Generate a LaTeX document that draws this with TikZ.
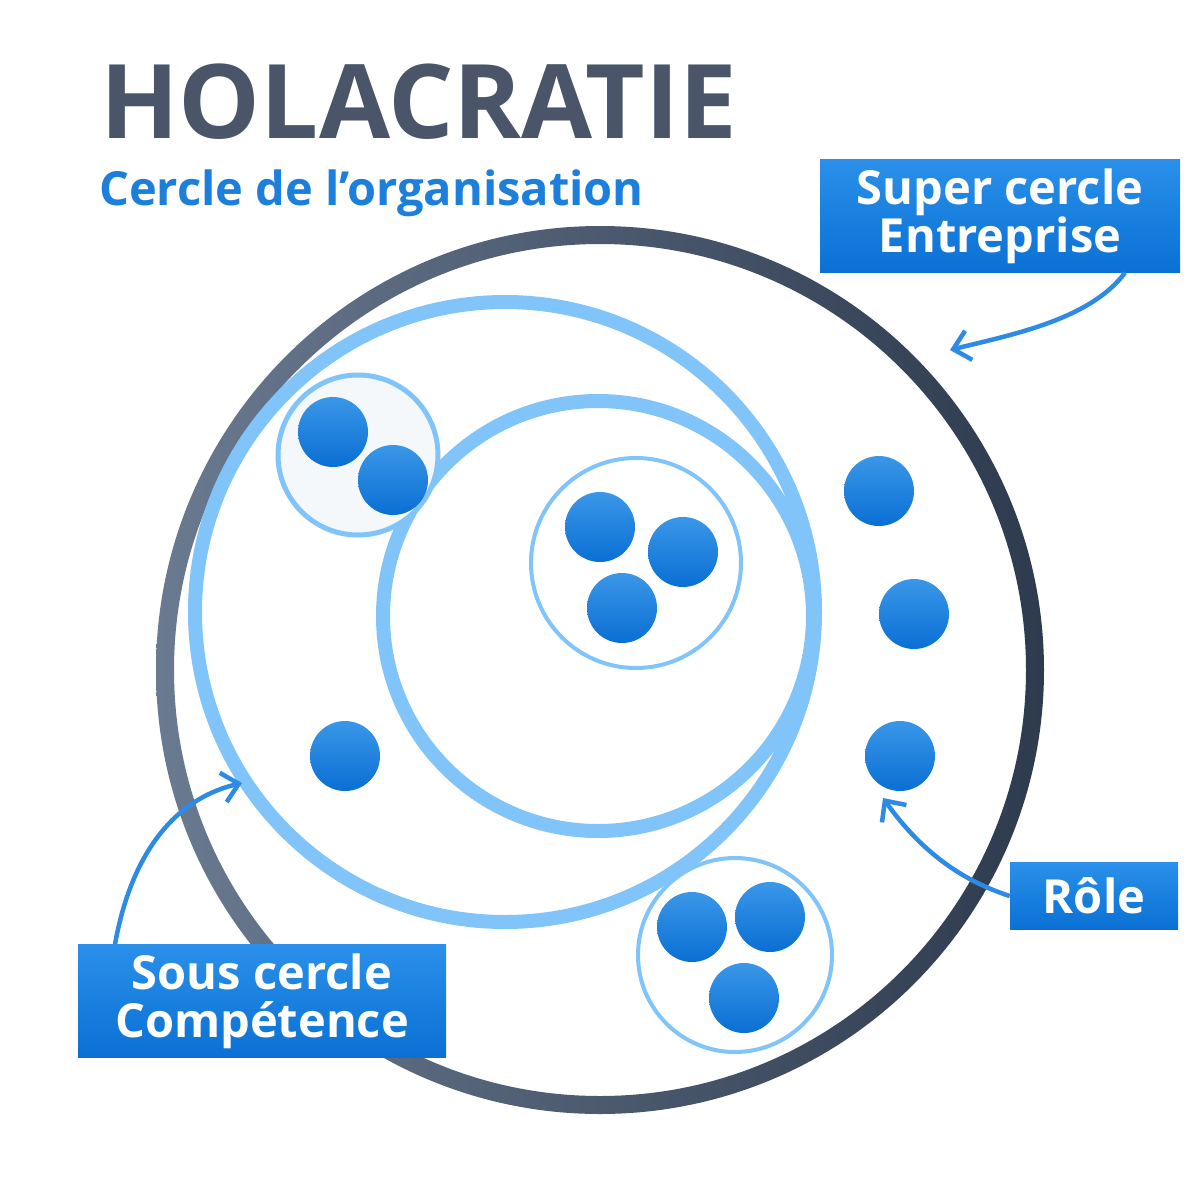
\documentclass[tikz,border=0pt]{standalone}
\usepackage{fontspec}
\setmainfont{Open Sans}
\usetikzlibrary{arrows.meta}
\definecolor{lb}{HTML}{80C4FA}
\definecolor{ab}{HTML}{2D8AE5}
\definecolor{tt}{HTML}{4A556A}
\definecolor{st}{HTML}{1B7FDB}
\definecolor{dtop}{HTML}{3A97E8}
\definecolor{dbot}{HTML}{0A6FD4}
\definecolor{btop}{HTML}{2A90EA}
\definecolor{bbot}{HTML}{0A70D4}
\definecolor{gl}{HTML}{6A7A90}
\definecolor{gr}{HTML}{2E3A4E}
\definecolor{pale}{HTML}{F5F8FB}
\tikzset{
 dot/.style={circle,minimum size=70pt,inner sep=0pt,top color=dtop,bottom color=dbot},
 lab/.style={inner sep=0pt,minimum height=#1,text=white,font=\bfseries\fontsize{47}{48}\selectfont,align=center,top color=btop,bottom color=bbot},
 ring/.style={draw=lb,line width=#1},
 arr/.style={draw=ab,line width=4.5pt,-{Straight Barb[length=16pt,width=30pt,line width=4.5pt]}}
}
\begin{document}
\begin{tikzpicture}[x=1pt,y=-1pt]
\useasboundingbox (0,0) rectangle (1200,1200);
\fill[white] (0,0) rectangle (1200,1200);
\node[anchor=base west,inner sep=0pt,text=tt,font=\bfseries\fontsize{103}{106}\selectfont] (title) at (100,138) {HOLACRATIE};
\node[anchor=base west,inner sep=0pt,text=st,font=\bfseries\fontsize{47}{50}\selectfont] (sub) at (99,205) {Cercle de l’organisation};
\shade[left color=gl,right color=gr,even odd rule] (600,670) circle (444) circle (426);
\node[circle,ring=14pt,minimum size=620pt,inner sep=0pt] (c1) at (505,612) {};
\node[circle,ring=14pt,minimum size=430pt,inner sep=0pt] (c2) at (598,616) {};
\node[circle,ring=5pt,fill=pale,minimum size=160pt,inner sep=0pt] (s1) at (358,455) {};
\node[dot] (d1) at (333,432) {};
\node[dot] (d2) at (393,480) {};
\node[circle,ring=4pt,minimum size=210pt,inner sep=0pt] (s2) at (636,563) {};
\node[dot] (d3) at (600,527) {};
\node[dot] (d4) at (683,552) {};
\node[dot] (d5) at (622,608) {};
\node[circle,ring=4pt,minimum size=194pt,inner sep=0pt] (s3) at (735,955) {};
\node[dot] (d6) at (692,927) {};
\node[dot] (d7) at (770,917) {};
\node[dot] (d8) at (744,998) {};
\node[dot] (r1) at (879,491) {};
\node[dot] (r2) at (914,614) {};
\node[dot] (r3) at (900,756) {};
\node[dot] (r4) at (345,756) {};
\node[lab=113pt,minimum width=360pt] (b1) at (1000,216) {Super cercle\\Entreprise};
\node[lab=67pt,minimum width=168pt] (b2) at (1094,896) {Rôle};
\node[lab=113pt,minimum width=368pt] (b3) at (262,1001) {Sous cercle\\Compétence};
\coordinate (e1) at (950,350);
\coordinate (e2) at (883,798);
\coordinate (e3) at (242,783);
\draw[arr] ([xshift=125pt]b1.south) .. controls (1090,320) and (1010,335) .. (e1);
\draw[arr] (b2.west) .. controls (960,880) and (920,850) .. (e2);
\draw[arr] ([xshift=-147pt]b3.north) .. controls (130,860) and (170,800) .. (e3);
\end{tikzpicture}
\end{document}
